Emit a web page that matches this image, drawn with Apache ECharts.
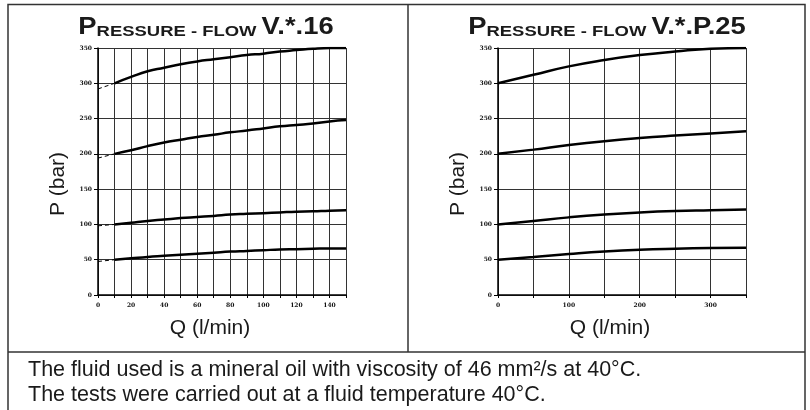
<!DOCTYPE html>
<html>
<head>
<meta charset="utf-8">
<script src="https://cdn.jsdelivr.net/npm/echarts@6/dist/echarts.min.js"></script>
<style>
html,body{margin:0;padding:0;background:#fff;}
#chart{width:810px;height:410px;}
</style>
</head>
<body>
<div id="chart"></div>
<script>
// ---- data ----
var leftTitle = ['P', 'RESSURE - FLOW ', 'V.*.16'];
var rightTitle = ['P', 'RESSURE - FLOW ', 'V.*.P.25'];
var xName = 'Q (l/min)';
var yName = 'P (bar)';
var footer1 = 'The fluid used is a mineral oil with viscosity of 46 mm\u00B2/s at 40\u00B0C.';
var footer2 = 'The tests were carried out at a fluid temperature 40\u00B0C.';

var leftQ = [10, 20, 30, 40, 50, 60, 70, 80, 90, 100, 110, 120, 130, 140, 150];
var left300 = [300, 309, 317, 322, 327, 331, 334, 337, 340, 342, 345, 347, 349, 350, 350];
var left200 = [200, 205, 211, 216, 220, 224, 227, 230.5, 233, 236, 239, 241, 243, 246, 248];
var left100 = [100, 102.5, 105, 107, 109, 110.5, 112, 114, 115, 116, 117, 118, 118.5, 119.5, 120];
var left50 = [50, 52, 54, 55.5, 57, 58.5, 60, 61.5, 62.5, 63.5, 64.5, 65, 65.5, 66, 66];
// dashed extrapolations from Q = 0 to Q = 10
var leftDashQ = [0, 10];
var leftDash300 = [292, 300];
var leftDash200 = [194, 200];
var leftDash100 = [98, 100];
var leftDash50 = [47.5, 50];

var rightQ = [0, 50, 100, 150, 200, 250, 300, 350];
var right300 = [300, 312, 324, 333, 340, 345, 349, 350];
var right200 = [200, 206, 212.5, 218, 222.5, 226, 229, 232];
var right100 = [100, 105, 110, 114, 117, 119, 120, 121];
var right50 = [50, 54, 58, 61.5, 64, 65.5, 66.5, 67];

// ---- chart ----
function zip(xs, ys) { return xs.map(function (x, i) { return [x, ys[i]]; }); }

var tickFont = { fontSize: 6, color: '#111', fontFamily: 'DejaVu Serif', fontWeight: 'bold' };
var gridLine = { show: true, lineStyle: { color: '#333', width: 1 } };

function xAxisDef(idx, max, interval, labelStep) {
  return {
    type: 'value', gridIndex: idx, min: 0, max: max, interval: interval,
    axisLine: { show: true, onZero: false, lineStyle: { color: '#000', width: 1.5 } },
    axisTick: { show: true, length: 3, lineStyle: { color: '#000' } },
    axisLabel: Object.assign({ margin: 7, formatter: function (v) { return v % labelStep === 0 && v !== max ? String(v) : ''; } }, tickFont),
    splitLine: gridLine
  };
}
function yAxisDef(idx) {
  return {
    type: 'value', gridIndex: idx, min: 0, max: 350, interval: 50,
    axisLine: { show: true, onZero: false, lineStyle: { color: '#000', width: 1.5 } },
    axisTick: { show: true, length: 4, lineStyle: { color: '#000' } },
    axisLabel: Object.assign({ margin: 6 }, tickFont),
    splitLine: gridLine
  };
}
function curve(idx, data) {
  return { type: 'line', xAxisIndex: idx, yAxisIndex: idx, data: data, smooth: true, showSymbol: false,
    lineStyle: { color: '#000', width: 2.5 }, z: 5 };
}
function dash(idx, data) {
  return { type: 'line', xAxisIndex: idx, yAxisIndex: idx, data: data, showSymbol: false,
    lineStyle: { color: '#000', width: 1, type: [4, 3] }, z: 4 };
}

var titleRich = {
  a: { fontSize: 23, lineHeight: 23, fontWeight: 'bold', fontFamily: 'Liberation Sans', fill: '#1a1a1a', color: '#1a1a1a', verticalAlign: 'bottom' },
  b: { fontSize: 15.5, lineHeight: 18, fontWeight: 'bold', fontFamily: 'Liberation Sans', fill: '#1a1a1a', color: '#1a1a1a', verticalAlign: 'bottom' }
};
function titleText(parts, cx) {
  return { type: 'text', x: cx, y: 39.5, scaleX: 1.19, z: 10,
    style: { text: '{a|' + parts[0] + '}{b|' + parts[1].toUpperCase() + '}{a|' + parts[2] + '}',
      rich: titleRich, align: 'center', verticalAlign: 'bottom', textAlign: 'center', textVerticalAlign: 'bottom' } };
}
function plainText(str, x, y, size, align, rot) {
  return { type: 'text', x: x, y: y, rotation: rot || 0, z: 10,
    style: { text: str, font: size + 'px "Liberation Sans", Arial, sans-serif', fill: '#1a1a1a',
      align: align, verticalAlign: 'middle', textAlign: align, textVerticalAlign: 'middle' } };
}

var chart = echarts.init(document.getElementById('chart'), null, { renderer: 'canvas' });
chart.setOption({
  animation: false,
  backgroundColor: '#fff',
  grid: [
    { left: 98, top: 48, width: 248, height: 247 },
    { left: 498, top: 48, width: 248, height: 247 }
  ],
  xAxis: [xAxisDef(0, 150, 10, 20), xAxisDef(1, 350, 50, 100)],
  yAxis: [yAxisDef(0), yAxisDef(1)],
  series: [
    curve(0, zip(leftQ, left300)), curve(0, zip(leftQ, left200)), curve(0, zip(leftQ, left100)), curve(0, zip(leftQ, left50)),
    dash(0, zip(leftDashQ, leftDash300)), dash(0, zip(leftDashQ, leftDash200)), dash(0, zip(leftDashQ, leftDash100)), dash(0, zip(leftDashQ, leftDash50)),
    curve(1, zip(rightQ, right300)), curve(1, zip(rightQ, right200)), curve(1, zip(rightQ, right100)), curve(1, zip(rightQ, right50))
  ],
  graphic: [
    { type: 'rect', shape: { x: 8, y: 4.5, width: 797, height: 430 }, style: { fill: 'none', stroke: '#333', lineWidth: 1.5 }, z: 1 },
    { type: 'line', shape: { x1: 408, y1: 4.5, x2: 408, y2: 352 }, style: { stroke: '#333', lineWidth: 1.5 }, z: 1 },
    { type: 'line', shape: { x1: 8, y1: 352, x2: 805, y2: 352 }, style: { stroke: '#333', lineWidth: 1.5 }, z: 1 },
    titleText(leftTitle, 206),
    titleText(rightTitle, 607),
    plainText(xName, 210, 328.5, 21, 'center'),
    plainText(xName, 610, 328.5, 21, 'center'),
    plainText(yName, 58, 184, 21, 'center', Math.PI / 2),
    plainText(yName, 458, 184, 21, 'center', Math.PI / 2),
    plainText(footer1, 28, 370.5, 21.5, 'left'),
    plainText(footer2, 28, 395.5, 21.5, 'left')
  ]
});
</script>
</body>
</html>
